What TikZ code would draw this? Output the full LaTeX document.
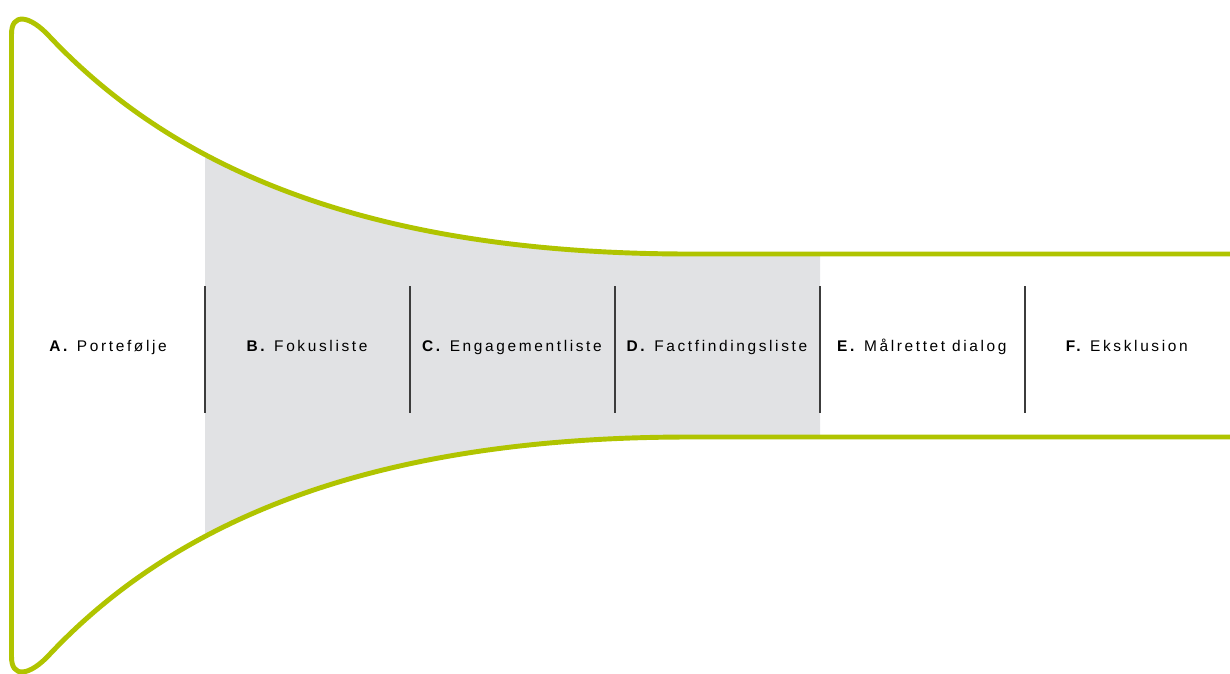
\documentclass[tikz,border=0pt]{standalone}
\usepackage{fontspec}
\setmainfont{Liberation Sans}[LetterSpace=17]
\usetikzlibrary{positioning}
\definecolor{funnelgreen}{RGB}{176,196,0}
\definecolor{funnelgray}{RGB}{225,226,228}
\definecolor{divgray}{RGB}{60,60,60}

\begin{document}
\begin{tikzpicture}[x=0.02cm,y=-0.02cm,node distance=4.1cm,
  stage node/.style={font=\fontsize{8.8}{11}\selectfont,inner sep=0pt,text height=6.5pt,text depth=2pt},
  funnel line/.style={draw=funnelgreen,line width=2.8pt,line join=round}]

\useasboundingbox (0,0) rectangle (1230,673);

% grey band B--D
\begin{scope}
\clip (205,0) rectangle (820,673);
\fill[funnelgray] (1230,254) -- (690,254) .. controls (390,254) and (185,180) .. (50,37)
  -- (11.5,37) -- (11.5,654) -- (50,654) .. controls (185,511) and (390,437) .. (690,437)
  -- (1230,437) -- cycle;
\end{scope}

% funnel outline
\draw[funnel line] (1230,254) -- (690,254) .. controls (390,254) and (185,180) .. (50,37)
  .. controls (30,15) and (11,12) .. (11.5,35) -- (11.5,656)
  .. controls (11,679) and (30,676) .. (50,654)
  .. controls (185,511) and (390,437) .. (690,437) -- (1230,437);

% dividers
\foreach \x in {205,410,615,820,1025}
  \draw[divgray,line width=0.8pt] (\x,286) -- (\x,413);

\node[stage node] (A) at (108,348) {\textbf{A.} Portefølje};
\node[stage node] (B) at (307,348) {\textbf{B.} Fokusliste};
\node[stage node] (C) [right of = B] {\textbf{C.} Engagementliste};
\node[stage node] (D) [right of = C] {\textbf{D.} Factfindingsliste};
\node[stage node] (E) [right of = D] {\textbf{E.} Målrettet dialog};
\node[stage node] (F) [right of = E] {\textbf{F.} Eksklusion};

\end{tikzpicture}
\end{document}
